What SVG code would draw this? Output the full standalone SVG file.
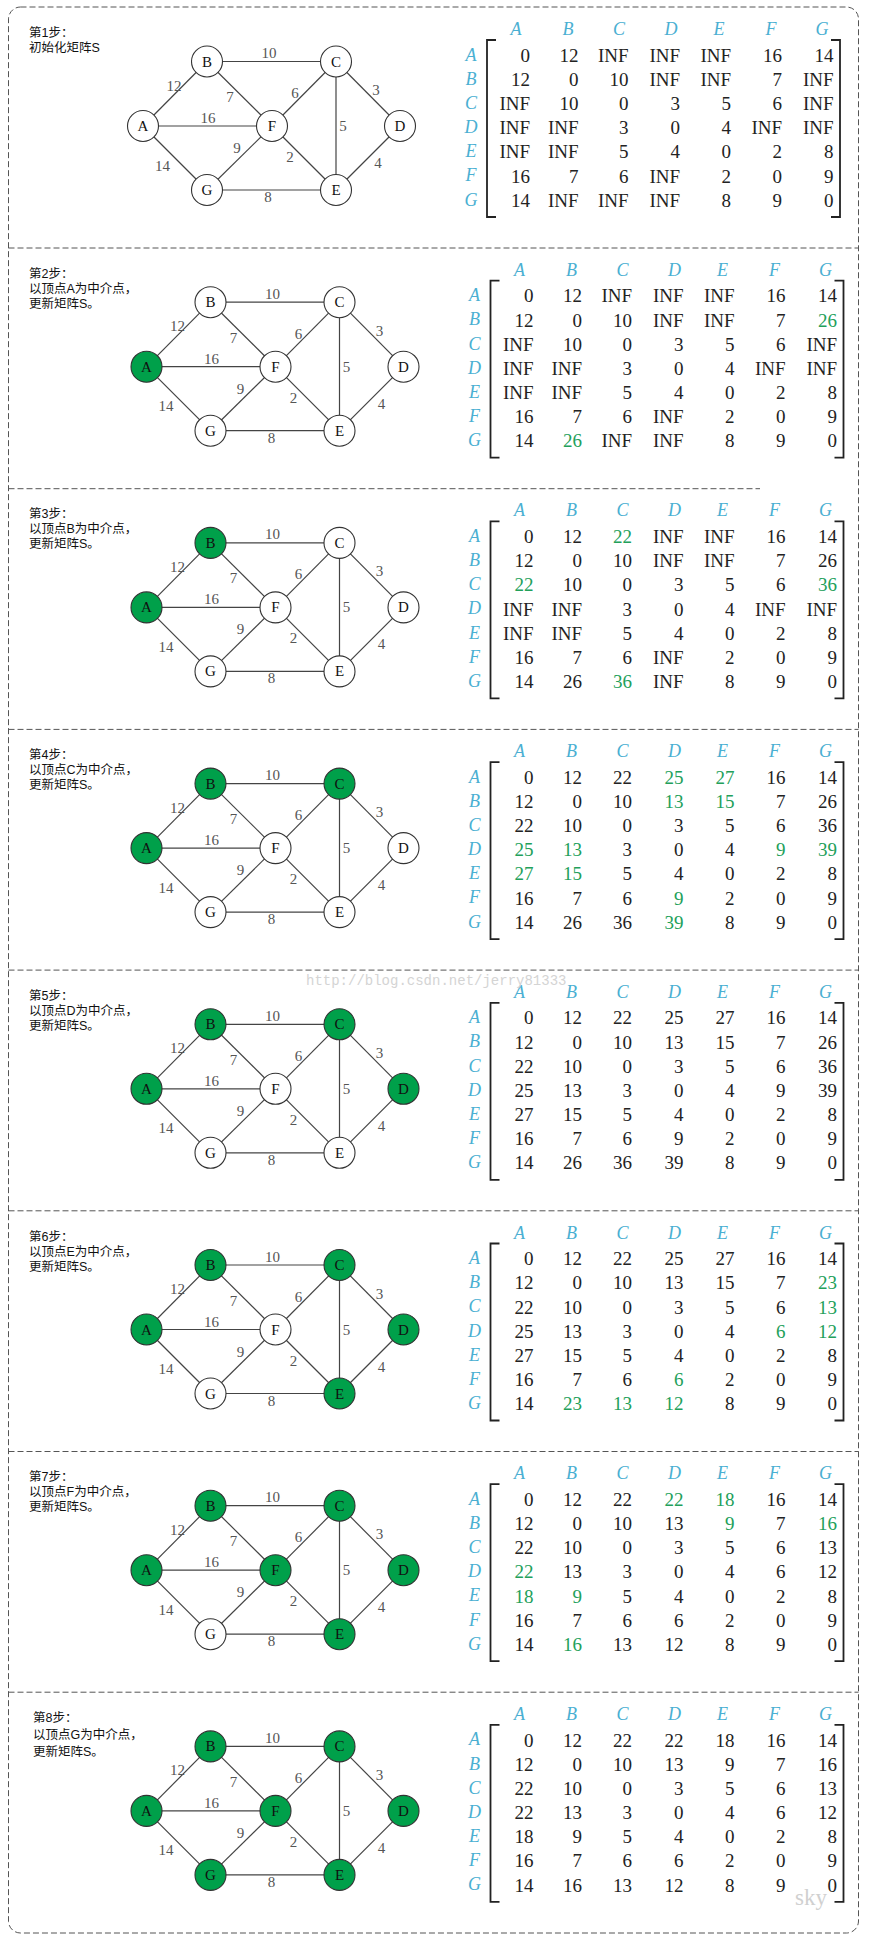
<svg xmlns="http://www.w3.org/2000/svg" width="871" height="1949" viewBox="0 0 871 1949">
<style>
.bd{fill:none;stroke:#555;stroke-width:1;stroke-dasharray:6 3}
.e{stroke:#444;stroke-width:1.2}
.el{font-family:"Liberation Serif",serif;font-size:15px;fill:#555;text-anchor:middle}
.n circle{fill:#fff;stroke:#333;stroke-width:1.1}
.n.on circle{fill:#00a04a}
.n text{font-family:"Liberation Serif",serif;font-size:15px;fill:#111;text-anchor:middle}
.st{font-family:"Liberation Sans","Noto Sans CJK SC",sans-serif;font-size:12.5px;fill:#111}
.h{font-family:"Liberation Serif",serif;font-style:italic;font-size:18px;fill:#4aafd2;text-anchor:middle}
.v{font-family:"Liberation Serif",serif;font-size:19px;fill:#222;text-anchor:end}
.g{fill:#22a05a}
.br{fill:none;stroke:#222;stroke-width:1.8}
.wm{font-family:"Liberation Mono",monospace;font-size:14px;fill:#d4d4d4}
.sky{font-family:"Liberation Serif",serif;font-size:23px;fill:#d0d0d0}
</style>
<defs>
<g id="hdr">
<text class="h" y="35"><tspan x="516">A</tspan><tspan x="568">B</tspan><tspan x="619">C</tspan><tspan x="671">D</tspan><tspan x="719">E</tspan><tspan x="771">F</tspan><tspan x="822">G</tspan></text>
<text class="h" x="471" y="60.5">A</text><text class="h" x="471" y="84.7">B</text><text class="h" x="471" y="108.9">C</text><text class="h" x="471" y="133">D</text><text class="h" x="471" y="157.2">E</text><text class="h" x="471" y="181.4">F</text><text class="h" x="471" y="205.5">G</text>
<path class="br" d="M496,40 H487 V217 H496"/><path class="br" d="M831,40 H840 V217 H831"/>
</g>
</defs>
<rect class="bd" x="8.5" y="7" width="850" height="1926" rx="12"/>
<g id="dividers">
<line class="bd" x1="8.5" y1="248" x2="858.5" y2="248"/>
<line class="bd" x1="8.5" y1="488.7" x2="760" y2="488.7"/>
<line class="bd" x1="8.5" y1="729.4" x2="858.5" y2="729.4"/>
<line class="bd" x1="8.5" y1="970.1" x2="858.5" y2="970.1"/>
<line class="bd" x1="8.5" y1="1210.8" x2="858.5" y2="1210.8"/>
<line class="bd" x1="8.5" y1="1451.5" x2="858.5" y2="1451.5"/>
<line class="bd" x1="8.5" y1="1692.2" x2="858.5" y2="1692.2"/>
</g>

<!-- STEP 1 -->
<g id="step1">
<g id="step1-text"><text class="st" x="29" y="37">第1步：<tspan x="29" dy="15">初始化矩阵S</tspan></text></g>
<g>
<g id="step1-connectors">
<line class="e" x1="143" y1="126" x2="207" y2="61.5"/><line class="e" x1="143" y1="126" x2="272" y2="126"/><line class="e" x1="143" y1="126" x2="207" y2="190"/><line class="e" x1="207" y1="61.5" x2="336" y2="61.5"/><line class="e" x1="207" y1="61.5" x2="272" y2="126"/><line class="e" x1="336" y1="61.5" x2="272" y2="126"/><line class="e" x1="336" y1="61.5" x2="400" y2="126"/><line class="e" x1="336" y1="61.5" x2="336" y2="190"/><line class="e" x1="272" y1="126" x2="336" y2="190"/><line class="e" x1="207" y1="190" x2="272" y2="126"/><line class="e" x1="207" y1="190" x2="336" y2="190"/><line class="e" x1="400" y1="126" x2="336" y2="190"/>
<text class="el" x="269" y="58">10</text><text class="el" x="174" y="90.5">12</text><text class="el" x="230" y="102">7</text><text class="el" x="295" y="98">6</text><text class="el" x="376" y="95">3</text><text class="el" x="208" y="123">16</text><text class="el" x="343" y="131">5</text><text class="el" x="237" y="153">9</text><text class="el" x="290" y="162">2</text><text class="el" x="162.5" y="170.5">14</text><text class="el" x="378" y="168">4</text><text class="el" x="268" y="202">8</text>
</g>
<g id="s1-A" class="n"><circle cx="143" cy="126" r="15.5"/><text x="143" y="131">A</text></g>
<g id="s1-B" class="n"><circle cx="207" cy="61.5" r="15.5"/><text x="207" y="66.5">B</text></g>
<g id="s1-C" class="n"><circle cx="336" cy="61.5" r="15.5"/><text x="336" y="66.5">C</text></g>
<g id="s1-D" class="n"><circle cx="400" cy="126" r="15.5"/><text x="400" y="131">D</text></g>
<g id="s1-E" class="n"><circle cx="336" cy="190" r="15.5"/><text x="336" y="195">E</text></g>
<g id="s1-F" class="n"><circle cx="272" cy="126" r="15.5"/><text x="272" y="131">F</text></g>
<g id="s1-G" class="n"><circle cx="207" cy="190" r="15.5"/><text x="207" y="195">G</text></g>
<g id="s1-matrix">
<use href="#hdr"/>
<text class="v" y="61.7"><tspan x="530">0</tspan><tspan x="578.5">12</tspan><tspan x="628.5">INF</tspan><tspan x="680">INF</tspan><tspan x="731">INF</tspan><tspan x="782">16</tspan><tspan x="833.5">14</tspan></text>
<text class="v" y="85.9"><tspan x="530">12</tspan><tspan x="578.5">0</tspan><tspan x="628.5">10</tspan><tspan x="680">INF</tspan><tspan x="731">INF</tspan><tspan x="782">7</tspan><tspan x="833.5">INF</tspan></text>
<text class="v" y="110.1"><tspan x="530">INF</tspan><tspan x="578.5">10</tspan><tspan x="628.5">0</tspan><tspan x="680">3</tspan><tspan x="731">5</tspan><tspan x="782">6</tspan><tspan x="833.5">INF</tspan></text>
<text class="v" y="134.2"><tspan x="530">INF</tspan><tspan x="578.5">INF</tspan><tspan x="628.5">3</tspan><tspan x="680">0</tspan><tspan x="731">4</tspan><tspan x="782">INF</tspan><tspan x="833.5">INF</tspan></text>
<text class="v" y="158.4"><tspan x="530">INF</tspan><tspan x="578.5">INF</tspan><tspan x="628.5">5</tspan><tspan x="680">4</tspan><tspan x="731">0</tspan><tspan x="782">2</tspan><tspan x="833.5">8</tspan></text>
<text class="v" y="182.6"><tspan x="530">16</tspan><tspan x="578.5">7</tspan><tspan x="628.5">6</tspan><tspan x="680">INF</tspan><tspan x="731">2</tspan><tspan x="782">0</tspan><tspan x="833.5">9</tspan></text>
<text class="v" y="206.7"><tspan x="530">14</tspan><tspan x="578.5">INF</tspan><tspan x="628.5">INF</tspan><tspan x="680">INF</tspan><tspan x="731">8</tspan><tspan x="782">9</tspan><tspan x="833.5">0</tspan></text>
</g>
</g>
</g>

<!-- STEP 2 -->
<g id="step2" transform="translate(0,240.7)">
<g id="step2-text"><text class="st" x="29" y="37">第2步：<tspan x="29" dy="15">以顶点A为中介点，</tspan><tspan x="29" dy="15">更新矩阵S。</tspan></text></g>
<g transform="translate(3.5,0)">
<g id="step2-connectors">
<line class="e" x1="143" y1="126" x2="207" y2="61.5"/><line class="e" x1="143" y1="126" x2="272" y2="126"/><line class="e" x1="143" y1="126" x2="207" y2="190"/><line class="e" x1="207" y1="61.5" x2="336" y2="61.5"/><line class="e" x1="207" y1="61.5" x2="272" y2="126"/><line class="e" x1="336" y1="61.5" x2="272" y2="126"/><line class="e" x1="336" y1="61.5" x2="400" y2="126"/><line class="e" x1="336" y1="61.5" x2="336" y2="190"/><line class="e" x1="272" y1="126" x2="336" y2="190"/><line class="e" x1="207" y1="190" x2="272" y2="126"/><line class="e" x1="207" y1="190" x2="336" y2="190"/><line class="e" x1="400" y1="126" x2="336" y2="190"/>
<text class="el" x="269" y="58">10</text><text class="el" x="174" y="90.5">12</text><text class="el" x="230" y="102">7</text><text class="el" x="295" y="98">6</text><text class="el" x="376" y="95">3</text><text class="el" x="208" y="123">16</text><text class="el" x="343" y="131">5</text><text class="el" x="237" y="153">9</text><text class="el" x="290" y="162">2</text><text class="el" x="162.5" y="170.5">14</text><text class="el" x="378" y="168">4</text><text class="el" x="268" y="202">8</text>
</g>
<g id="s2-A" class="n on"><circle cx="143" cy="126" r="15.5"/><text x="143" y="131">A</text></g>
<g id="s2-B" class="n"><circle cx="207" cy="61.5" r="15.5"/><text x="207" y="66.5">B</text></g>
<g id="s2-C" class="n"><circle cx="336" cy="61.5" r="15.5"/><text x="336" y="66.5">C</text></g>
<g id="s2-D" class="n"><circle cx="400" cy="126" r="15.5"/><text x="400" y="131">D</text></g>
<g id="s2-E" class="n"><circle cx="336" cy="190" r="15.5"/><text x="336" y="195">E</text></g>
<g id="s2-F" class="n"><circle cx="272" cy="126" r="15.5"/><text x="272" y="131">F</text></g>
<g id="s2-G" class="n"><circle cx="207" cy="190" r="15.5"/><text x="207" y="195">G</text></g>
<g id="s2-matrix">
<use href="#hdr"/>
<text class="v" y="61.7"><tspan x="530">0</tspan><tspan x="578.5">12</tspan><tspan x="628.5">INF</tspan><tspan x="680">INF</tspan><tspan x="731">INF</tspan><tspan x="782">16</tspan><tspan x="833.5">14</tspan></text>
<text class="v" y="85.9"><tspan x="530">12</tspan><tspan x="578.5">0</tspan><tspan x="628.5">10</tspan><tspan x="680">INF</tspan><tspan x="731">INF</tspan><tspan x="782">7</tspan><tspan x="833.5" class="g">26</tspan></text>
<text class="v" y="110.1"><tspan x="530">INF</tspan><tspan x="578.5">10</tspan><tspan x="628.5">0</tspan><tspan x="680">3</tspan><tspan x="731">5</tspan><tspan x="782">6</tspan><tspan x="833.5">INF</tspan></text>
<text class="v" y="134.2"><tspan x="530">INF</tspan><tspan x="578.5">INF</tspan><tspan x="628.5">3</tspan><tspan x="680">0</tspan><tspan x="731">4</tspan><tspan x="782">INF</tspan><tspan x="833.5">INF</tspan></text>
<text class="v" y="158.4"><tspan x="530">INF</tspan><tspan x="578.5">INF</tspan><tspan x="628.5">5</tspan><tspan x="680">4</tspan><tspan x="731">0</tspan><tspan x="782">2</tspan><tspan x="833.5">8</tspan></text>
<text class="v" y="182.6"><tspan x="530">16</tspan><tspan x="578.5">7</tspan><tspan x="628.5">6</tspan><tspan x="680">INF</tspan><tspan x="731">2</tspan><tspan x="782">0</tspan><tspan x="833.5">9</tspan></text>
<text class="v" y="206.7"><tspan x="530">14</tspan><tspan x="578.5" class="g">26</tspan><tspan x="628.5">INF</tspan><tspan x="680">INF</tspan><tspan x="731">8</tspan><tspan x="782">9</tspan><tspan x="833.5">0</tspan></text>
</g>
</g>
</g>

<!-- STEP 3 -->
<g id="step3" transform="translate(0,481.4)">
<g id="step3-text"><text class="st" x="29" y="37">第3步：<tspan x="29" dy="15">以顶点B为中介点，</tspan><tspan x="29" dy="15">更新矩阵S。</tspan></text></g>
<g transform="translate(3.5,0)">
<g id="step3-connectors">
<line class="e" x1="143" y1="126" x2="207" y2="61.5"/><line class="e" x1="143" y1="126" x2="272" y2="126"/><line class="e" x1="143" y1="126" x2="207" y2="190"/><line class="e" x1="207" y1="61.5" x2="336" y2="61.5"/><line class="e" x1="207" y1="61.5" x2="272" y2="126"/><line class="e" x1="336" y1="61.5" x2="272" y2="126"/><line class="e" x1="336" y1="61.5" x2="400" y2="126"/><line class="e" x1="336" y1="61.5" x2="336" y2="190"/><line class="e" x1="272" y1="126" x2="336" y2="190"/><line class="e" x1="207" y1="190" x2="272" y2="126"/><line class="e" x1="207" y1="190" x2="336" y2="190"/><line class="e" x1="400" y1="126" x2="336" y2="190"/>
<text class="el" x="269" y="58">10</text><text class="el" x="174" y="90.5">12</text><text class="el" x="230" y="102">7</text><text class="el" x="295" y="98">6</text><text class="el" x="376" y="95">3</text><text class="el" x="208" y="123">16</text><text class="el" x="343" y="131">5</text><text class="el" x="237" y="153">9</text><text class="el" x="290" y="162">2</text><text class="el" x="162.5" y="170.5">14</text><text class="el" x="378" y="168">4</text><text class="el" x="268" y="202">8</text>
</g>
<g id="s3-A" class="n on"><circle cx="143" cy="126" r="15.5"/><text x="143" y="131">A</text></g>
<g id="s3-B" class="n on"><circle cx="207" cy="61.5" r="15.5"/><text x="207" y="66.5">B</text></g>
<g id="s3-C" class="n"><circle cx="336" cy="61.5" r="15.5"/><text x="336" y="66.5">C</text></g>
<g id="s3-D" class="n"><circle cx="400" cy="126" r="15.5"/><text x="400" y="131">D</text></g>
<g id="s3-E" class="n"><circle cx="336" cy="190" r="15.5"/><text x="336" y="195">E</text></g>
<g id="s3-F" class="n"><circle cx="272" cy="126" r="15.5"/><text x="272" y="131">F</text></g>
<g id="s3-G" class="n"><circle cx="207" cy="190" r="15.5"/><text x="207" y="195">G</text></g>
<g id="s3-matrix">
<use href="#hdr"/>
<text class="v" y="61.7"><tspan x="530">0</tspan><tspan x="578.5">12</tspan><tspan x="628.5" class="g">22</tspan><tspan x="680">INF</tspan><tspan x="731">INF</tspan><tspan x="782">16</tspan><tspan x="833.5">14</tspan></text>
<text class="v" y="85.9"><tspan x="530">12</tspan><tspan x="578.5">0</tspan><tspan x="628.5">10</tspan><tspan x="680">INF</tspan><tspan x="731">INF</tspan><tspan x="782">7</tspan><tspan x="833.5">26</tspan></text>
<text class="v" y="110.1"><tspan x="530" class="g">22</tspan><tspan x="578.5">10</tspan><tspan x="628.5">0</tspan><tspan x="680">3</tspan><tspan x="731">5</tspan><tspan x="782">6</tspan><tspan x="833.5" class="g">36</tspan></text>
<text class="v" y="134.2"><tspan x="530">INF</tspan><tspan x="578.5">INF</tspan><tspan x="628.5">3</tspan><tspan x="680">0</tspan><tspan x="731">4</tspan><tspan x="782">INF</tspan><tspan x="833.5">INF</tspan></text>
<text class="v" y="158.4"><tspan x="530">INF</tspan><tspan x="578.5">INF</tspan><tspan x="628.5">5</tspan><tspan x="680">4</tspan><tspan x="731">0</tspan><tspan x="782">2</tspan><tspan x="833.5">8</tspan></text>
<text class="v" y="182.6"><tspan x="530">16</tspan><tspan x="578.5">7</tspan><tspan x="628.5">6</tspan><tspan x="680">INF</tspan><tspan x="731">2</tspan><tspan x="782">0</tspan><tspan x="833.5">9</tspan></text>
<text class="v" y="206.7"><tspan x="530">14</tspan><tspan x="578.5">26</tspan><tspan x="628.5" class="g">36</tspan><tspan x="680">INF</tspan><tspan x="731">8</tspan><tspan x="782">9</tspan><tspan x="833.5">0</tspan></text>
</g>
</g>
</g>

<!-- STEP 4 -->
<g id="step4" transform="translate(0,722.1)">
<g id="step4-text"><text class="st" x="29" y="37">第4步：<tspan x="29" dy="15">以顶点C为中介点，</tspan><tspan x="29" dy="15">更新矩阵S。</tspan></text></g>
<g transform="translate(3.5,0)">
<g id="step4-connectors">
<line class="e" x1="143" y1="126" x2="207" y2="61.5"/><line class="e" x1="143" y1="126" x2="272" y2="126"/><line class="e" x1="143" y1="126" x2="207" y2="190"/><line class="e" x1="207" y1="61.5" x2="336" y2="61.5"/><line class="e" x1="207" y1="61.5" x2="272" y2="126"/><line class="e" x1="336" y1="61.5" x2="272" y2="126"/><line class="e" x1="336" y1="61.5" x2="400" y2="126"/><line class="e" x1="336" y1="61.5" x2="336" y2="190"/><line class="e" x1="272" y1="126" x2="336" y2="190"/><line class="e" x1="207" y1="190" x2="272" y2="126"/><line class="e" x1="207" y1="190" x2="336" y2="190"/><line class="e" x1="400" y1="126" x2="336" y2="190"/>
<text class="el" x="269" y="58">10</text><text class="el" x="174" y="90.5">12</text><text class="el" x="230" y="102">7</text><text class="el" x="295" y="98">6</text><text class="el" x="376" y="95">3</text><text class="el" x="208" y="123">16</text><text class="el" x="343" y="131">5</text><text class="el" x="237" y="153">9</text><text class="el" x="290" y="162">2</text><text class="el" x="162.5" y="170.5">14</text><text class="el" x="378" y="168">4</text><text class="el" x="268" y="202">8</text>
</g>
<g id="s4-A" class="n on"><circle cx="143" cy="126" r="15.5"/><text x="143" y="131">A</text></g>
<g id="s4-B" class="n on"><circle cx="207" cy="61.5" r="15.5"/><text x="207" y="66.5">B</text></g>
<g id="s4-C" class="n on"><circle cx="336" cy="61.5" r="15.5"/><text x="336" y="66.5">C</text></g>
<g id="s4-D" class="n"><circle cx="400" cy="126" r="15.5"/><text x="400" y="131">D</text></g>
<g id="s4-E" class="n"><circle cx="336" cy="190" r="15.5"/><text x="336" y="195">E</text></g>
<g id="s4-F" class="n"><circle cx="272" cy="126" r="15.5"/><text x="272" y="131">F</text></g>
<g id="s4-G" class="n"><circle cx="207" cy="190" r="15.5"/><text x="207" y="195">G</text></g>
<g id="s4-matrix">
<use href="#hdr"/>
<text class="v" y="61.7"><tspan x="530">0</tspan><tspan x="578.5">12</tspan><tspan x="628.5">22</tspan><tspan x="680" class="g">25</tspan><tspan x="731" class="g">27</tspan><tspan x="782">16</tspan><tspan x="833.5">14</tspan></text>
<text class="v" y="85.9"><tspan x="530">12</tspan><tspan x="578.5">0</tspan><tspan x="628.5">10</tspan><tspan x="680" class="g">13</tspan><tspan x="731" class="g">15</tspan><tspan x="782">7</tspan><tspan x="833.5">26</tspan></text>
<text class="v" y="110.1"><tspan x="530">22</tspan><tspan x="578.5">10</tspan><tspan x="628.5">0</tspan><tspan x="680">3</tspan><tspan x="731">5</tspan><tspan x="782">6</tspan><tspan x="833.5">36</tspan></text>
<text class="v" y="134.2"><tspan x="530" class="g">25</tspan><tspan x="578.5" class="g">13</tspan><tspan x="628.5">3</tspan><tspan x="680">0</tspan><tspan x="731">4</tspan><tspan x="782" class="g">9</tspan><tspan x="833.5" class="g">39</tspan></text>
<text class="v" y="158.4"><tspan x="530" class="g">27</tspan><tspan x="578.5" class="g">15</tspan><tspan x="628.5">5</tspan><tspan x="680">4</tspan><tspan x="731">0</tspan><tspan x="782">2</tspan><tspan x="833.5">8</tspan></text>
<text class="v" y="182.6"><tspan x="530">16</tspan><tspan x="578.5">7</tspan><tspan x="628.5">6</tspan><tspan x="680" class="g">9</tspan><tspan x="731">2</tspan><tspan x="782">0</tspan><tspan x="833.5">9</tspan></text>
<text class="v" y="206.7"><tspan x="530">14</tspan><tspan x="578.5">26</tspan><tspan x="628.5">36</tspan><tspan x="680" class="g">39</tspan><tspan x="731">8</tspan><tspan x="782">9</tspan><tspan x="833.5">0</tspan></text>
</g>
</g>
</g>

<!-- STEP 5 -->
<g id="step5" transform="translate(0,962.8)">
<g id="step5-text"><text class="st" x="29" y="37">第5步：<tspan x="29" dy="15">以顶点D为中介点，</tspan><tspan x="29" dy="15">更新矩阵S。</tspan></text></g>
<g transform="translate(3.5,0)">
<g id="step5-connectors">
<line class="e" x1="143" y1="126" x2="207" y2="61.5"/><line class="e" x1="143" y1="126" x2="272" y2="126"/><line class="e" x1="143" y1="126" x2="207" y2="190"/><line class="e" x1="207" y1="61.5" x2="336" y2="61.5"/><line class="e" x1="207" y1="61.5" x2="272" y2="126"/><line class="e" x1="336" y1="61.5" x2="272" y2="126"/><line class="e" x1="336" y1="61.5" x2="400" y2="126"/><line class="e" x1="336" y1="61.5" x2="336" y2="190"/><line class="e" x1="272" y1="126" x2="336" y2="190"/><line class="e" x1="207" y1="190" x2="272" y2="126"/><line class="e" x1="207" y1="190" x2="336" y2="190"/><line class="e" x1="400" y1="126" x2="336" y2="190"/>
<text class="el" x="269" y="58">10</text><text class="el" x="174" y="90.5">12</text><text class="el" x="230" y="102">7</text><text class="el" x="295" y="98">6</text><text class="el" x="376" y="95">3</text><text class="el" x="208" y="123">16</text><text class="el" x="343" y="131">5</text><text class="el" x="237" y="153">9</text><text class="el" x="290" y="162">2</text><text class="el" x="162.5" y="170.5">14</text><text class="el" x="378" y="168">4</text><text class="el" x="268" y="202">8</text>
</g>
<g id="s5-A" class="n on"><circle cx="143" cy="126" r="15.5"/><text x="143" y="131">A</text></g>
<g id="s5-B" class="n on"><circle cx="207" cy="61.5" r="15.5"/><text x="207" y="66.5">B</text></g>
<g id="s5-C" class="n on"><circle cx="336" cy="61.5" r="15.5"/><text x="336" y="66.5">C</text></g>
<g id="s5-D" class="n on"><circle cx="400" cy="126" r="15.5"/><text x="400" y="131">D</text></g>
<g id="s5-E" class="n"><circle cx="336" cy="190" r="15.5"/><text x="336" y="195">E</text></g>
<g id="s5-F" class="n"><circle cx="272" cy="126" r="15.5"/><text x="272" y="131">F</text></g>
<g id="s5-G" class="n"><circle cx="207" cy="190" r="15.5"/><text x="207" y="195">G</text></g>
<g id="s5-matrix">
<use href="#hdr"/>
<text class="v" y="61.7"><tspan x="530">0</tspan><tspan x="578.5">12</tspan><tspan x="628.5">22</tspan><tspan x="680">25</tspan><tspan x="731">27</tspan><tspan x="782">16</tspan><tspan x="833.5">14</tspan></text>
<text class="v" y="85.9"><tspan x="530">12</tspan><tspan x="578.5">0</tspan><tspan x="628.5">10</tspan><tspan x="680">13</tspan><tspan x="731">15</tspan><tspan x="782">7</tspan><tspan x="833.5">26</tspan></text>
<text class="v" y="110.1"><tspan x="530">22</tspan><tspan x="578.5">10</tspan><tspan x="628.5">0</tspan><tspan x="680">3</tspan><tspan x="731">5</tspan><tspan x="782">6</tspan><tspan x="833.5">36</tspan></text>
<text class="v" y="134.2"><tspan x="530">25</tspan><tspan x="578.5">13</tspan><tspan x="628.5">3</tspan><tspan x="680">0</tspan><tspan x="731">4</tspan><tspan x="782">9</tspan><tspan x="833.5">39</tspan></text>
<text class="v" y="158.4"><tspan x="530">27</tspan><tspan x="578.5">15</tspan><tspan x="628.5">5</tspan><tspan x="680">4</tspan><tspan x="731">0</tspan><tspan x="782">2</tspan><tspan x="833.5">8</tspan></text>
<text class="v" y="182.6"><tspan x="530">16</tspan><tspan x="578.5">7</tspan><tspan x="628.5">6</tspan><tspan x="680">9</tspan><tspan x="731">2</tspan><tspan x="782">0</tspan><tspan x="833.5">9</tspan></text>
<text class="v" y="206.7"><tspan x="530">14</tspan><tspan x="578.5">26</tspan><tspan x="628.5">36</tspan><tspan x="680">39</tspan><tspan x="731">8</tspan><tspan x="782">9</tspan><tspan x="833.5">0</tspan></text>
</g>
</g>
</g>

<!-- STEP 6 -->
<g id="step6" transform="translate(0,1203.5)">
<g id="step6-text"><text class="st" x="29" y="37">第6步：<tspan x="29" dy="15">以顶点E为中介点，</tspan><tspan x="29" dy="15">更新矩阵S。</tspan></text></g>
<g transform="translate(3.5,0)">
<g id="step6-connectors">
<line class="e" x1="143" y1="126" x2="207" y2="61.5"/><line class="e" x1="143" y1="126" x2="272" y2="126"/><line class="e" x1="143" y1="126" x2="207" y2="190"/><line class="e" x1="207" y1="61.5" x2="336" y2="61.5"/><line class="e" x1="207" y1="61.5" x2="272" y2="126"/><line class="e" x1="336" y1="61.5" x2="272" y2="126"/><line class="e" x1="336" y1="61.5" x2="400" y2="126"/><line class="e" x1="336" y1="61.5" x2="336" y2="190"/><line class="e" x1="272" y1="126" x2="336" y2="190"/><line class="e" x1="207" y1="190" x2="272" y2="126"/><line class="e" x1="207" y1="190" x2="336" y2="190"/><line class="e" x1="400" y1="126" x2="336" y2="190"/>
<text class="el" x="269" y="58">10</text><text class="el" x="174" y="90.5">12</text><text class="el" x="230" y="102">7</text><text class="el" x="295" y="98">6</text><text class="el" x="376" y="95">3</text><text class="el" x="208" y="123">16</text><text class="el" x="343" y="131">5</text><text class="el" x="237" y="153">9</text><text class="el" x="290" y="162">2</text><text class="el" x="162.5" y="170.5">14</text><text class="el" x="378" y="168">4</text><text class="el" x="268" y="202">8</text>
</g>
<g id="s6-A" class="n on"><circle cx="143" cy="126" r="15.5"/><text x="143" y="131">A</text></g>
<g id="s6-B" class="n on"><circle cx="207" cy="61.5" r="15.5"/><text x="207" y="66.5">B</text></g>
<g id="s6-C" class="n on"><circle cx="336" cy="61.5" r="15.5"/><text x="336" y="66.5">C</text></g>
<g id="s6-D" class="n on"><circle cx="400" cy="126" r="15.5"/><text x="400" y="131">D</text></g>
<g id="s6-E" class="n on"><circle cx="336" cy="190" r="15.5"/><text x="336" y="195">E</text></g>
<g id="s6-F" class="n"><circle cx="272" cy="126" r="15.5"/><text x="272" y="131">F</text></g>
<g id="s6-G" class="n"><circle cx="207" cy="190" r="15.5"/><text x="207" y="195">G</text></g>
<g id="s6-matrix">
<use href="#hdr"/>
<text class="v" y="61.7"><tspan x="530">0</tspan><tspan x="578.5">12</tspan><tspan x="628.5">22</tspan><tspan x="680">25</tspan><tspan x="731">27</tspan><tspan x="782">16</tspan><tspan x="833.5">14</tspan></text>
<text class="v" y="85.9"><tspan x="530">12</tspan><tspan x="578.5">0</tspan><tspan x="628.5">10</tspan><tspan x="680">13</tspan><tspan x="731">15</tspan><tspan x="782">7</tspan><tspan x="833.5" class="g">23</tspan></text>
<text class="v" y="110.1"><tspan x="530">22</tspan><tspan x="578.5">10</tspan><tspan x="628.5">0</tspan><tspan x="680">3</tspan><tspan x="731">5</tspan><tspan x="782">6</tspan><tspan x="833.5" class="g">13</tspan></text>
<text class="v" y="134.2"><tspan x="530">25</tspan><tspan x="578.5">13</tspan><tspan x="628.5">3</tspan><tspan x="680">0</tspan><tspan x="731">4</tspan><tspan x="782" class="g">6</tspan><tspan x="833.5" class="g">12</tspan></text>
<text class="v" y="158.4"><tspan x="530">27</tspan><tspan x="578.5">15</tspan><tspan x="628.5">5</tspan><tspan x="680">4</tspan><tspan x="731">0</tspan><tspan x="782">2</tspan><tspan x="833.5">8</tspan></text>
<text class="v" y="182.6"><tspan x="530">16</tspan><tspan x="578.5">7</tspan><tspan x="628.5">6</tspan><tspan x="680" class="g">6</tspan><tspan x="731">2</tspan><tspan x="782">0</tspan><tspan x="833.5">9</tspan></text>
<text class="v" y="206.7"><tspan x="530">14</tspan><tspan x="578.5" class="g">23</tspan><tspan x="628.5" class="g">13</tspan><tspan x="680" class="g">12</tspan><tspan x="731">8</tspan><tspan x="782">9</tspan><tspan x="833.5">0</tspan></text>
</g>
</g>
</g>

<!-- STEP 7 -->
<g id="step7" transform="translate(0,1444.2)">
<g id="step7-text"><text class="st" x="29" y="37">第7步：<tspan x="29" dy="15">以顶点F为中介点，</tspan><tspan x="29" dy="15">更新矩阵S。</tspan></text></g>
<g transform="translate(3.5,0)">
<g id="step7-connectors">
<line class="e" x1="143" y1="126" x2="207" y2="61.5"/><line class="e" x1="143" y1="126" x2="272" y2="126"/><line class="e" x1="143" y1="126" x2="207" y2="190"/><line class="e" x1="207" y1="61.5" x2="336" y2="61.5"/><line class="e" x1="207" y1="61.5" x2="272" y2="126"/><line class="e" x1="336" y1="61.5" x2="272" y2="126"/><line class="e" x1="336" y1="61.5" x2="400" y2="126"/><line class="e" x1="336" y1="61.5" x2="336" y2="190"/><line class="e" x1="272" y1="126" x2="336" y2="190"/><line class="e" x1="207" y1="190" x2="272" y2="126"/><line class="e" x1="207" y1="190" x2="336" y2="190"/><line class="e" x1="400" y1="126" x2="336" y2="190"/>
<text class="el" x="269" y="58">10</text><text class="el" x="174" y="90.5">12</text><text class="el" x="230" y="102">7</text><text class="el" x="295" y="98">6</text><text class="el" x="376" y="95">3</text><text class="el" x="208" y="123">16</text><text class="el" x="343" y="131">5</text><text class="el" x="237" y="153">9</text><text class="el" x="290" y="162">2</text><text class="el" x="162.5" y="170.5">14</text><text class="el" x="378" y="168">4</text><text class="el" x="268" y="202">8</text>
</g>
<g id="s7-A" class="n on"><circle cx="143" cy="126" r="15.5"/><text x="143" y="131">A</text></g>
<g id="s7-B" class="n on"><circle cx="207" cy="61.5" r="15.5"/><text x="207" y="66.5">B</text></g>
<g id="s7-C" class="n on"><circle cx="336" cy="61.5" r="15.5"/><text x="336" y="66.5">C</text></g>
<g id="s7-D" class="n on"><circle cx="400" cy="126" r="15.5"/><text x="400" y="131">D</text></g>
<g id="s7-E" class="n on"><circle cx="336" cy="190" r="15.5"/><text x="336" y="195">E</text></g>
<g id="s7-F" class="n on"><circle cx="272" cy="126" r="15.5"/><text x="272" y="131">F</text></g>
<g id="s7-G" class="n"><circle cx="207" cy="190" r="15.5"/><text x="207" y="195">G</text></g>
<g id="s7-matrix">
<use href="#hdr"/>
<text class="v" y="61.7"><tspan x="530">0</tspan><tspan x="578.5">12</tspan><tspan x="628.5">22</tspan><tspan x="680" class="g">22</tspan><tspan x="731" class="g">18</tspan><tspan x="782">16</tspan><tspan x="833.5">14</tspan></text>
<text class="v" y="85.9"><tspan x="530">12</tspan><tspan x="578.5">0</tspan><tspan x="628.5">10</tspan><tspan x="680">13</tspan><tspan x="731" class="g">9</tspan><tspan x="782">7</tspan><tspan x="833.5" class="g">16</tspan></text>
<text class="v" y="110.1"><tspan x="530">22</tspan><tspan x="578.5">10</tspan><tspan x="628.5">0</tspan><tspan x="680">3</tspan><tspan x="731">5</tspan><tspan x="782">6</tspan><tspan x="833.5">13</tspan></text>
<text class="v" y="134.2"><tspan x="530" class="g">22</tspan><tspan x="578.5">13</tspan><tspan x="628.5">3</tspan><tspan x="680">0</tspan><tspan x="731">4</tspan><tspan x="782">6</tspan><tspan x="833.5">12</tspan></text>
<text class="v" y="158.4"><tspan x="530" class="g">18</tspan><tspan x="578.5" class="g">9</tspan><tspan x="628.5">5</tspan><tspan x="680">4</tspan><tspan x="731">0</tspan><tspan x="782">2</tspan><tspan x="833.5">8</tspan></text>
<text class="v" y="182.6"><tspan x="530">16</tspan><tspan x="578.5">7</tspan><tspan x="628.5">6</tspan><tspan x="680">6</tspan><tspan x="731">2</tspan><tspan x="782">0</tspan><tspan x="833.5">9</tspan></text>
<text class="v" y="206.7"><tspan x="530">14</tspan><tspan x="578.5" class="g">16</tspan><tspan x="628.5">13</tspan><tspan x="680">12</tspan><tspan x="731">8</tspan><tspan x="782">9</tspan><tspan x="833.5">0</tspan></text>
</g>
</g>
</g>

<!-- STEP 8 -->
<g id="step8" transform="translate(0,1684.9)">
<g id="step8-text"><text class="st" x="33" y="37">第8步：<tspan x="33" dy="17">以顶点G为中介点，</tspan><tspan x="33" dy="17">更新矩阵S。</tspan></text></g>
<g transform="translate(3.5,0)">
<g id="step8-connectors">
<line class="e" x1="143" y1="126" x2="207" y2="61.5"/><line class="e" x1="143" y1="126" x2="272" y2="126"/><line class="e" x1="143" y1="126" x2="207" y2="190"/><line class="e" x1="207" y1="61.5" x2="336" y2="61.5"/><line class="e" x1="207" y1="61.5" x2="272" y2="126"/><line class="e" x1="336" y1="61.5" x2="272" y2="126"/><line class="e" x1="336" y1="61.5" x2="400" y2="126"/><line class="e" x1="336" y1="61.5" x2="336" y2="190"/><line class="e" x1="272" y1="126" x2="336" y2="190"/><line class="e" x1="207" y1="190" x2="272" y2="126"/><line class="e" x1="207" y1="190" x2="336" y2="190"/><line class="e" x1="400" y1="126" x2="336" y2="190"/>
<text class="el" x="269" y="58">10</text><text class="el" x="174" y="90.5">12</text><text class="el" x="230" y="102">7</text><text class="el" x="295" y="98">6</text><text class="el" x="376" y="95">3</text><text class="el" x="208" y="123">16</text><text class="el" x="343" y="131">5</text><text class="el" x="237" y="153">9</text><text class="el" x="290" y="162">2</text><text class="el" x="162.5" y="170.5">14</text><text class="el" x="378" y="168">4</text><text class="el" x="268" y="202">8</text>
</g>
<g id="s8-A" class="n on"><circle cx="143" cy="126" r="15.5"/><text x="143" y="131">A</text></g>
<g id="s8-B" class="n on"><circle cx="207" cy="61.5" r="15.5"/><text x="207" y="66.5">B</text></g>
<g id="s8-C" class="n on"><circle cx="336" cy="61.5" r="15.5"/><text x="336" y="66.5">C</text></g>
<g id="s8-D" class="n on"><circle cx="400" cy="126" r="15.5"/><text x="400" y="131">D</text></g>
<g id="s8-E" class="n on"><circle cx="336" cy="190" r="15.5"/><text x="336" y="195">E</text></g>
<g id="s8-F" class="n on"><circle cx="272" cy="126" r="15.5"/><text x="272" y="131">F</text></g>
<g id="s8-G" class="n on"><circle cx="207" cy="190" r="15.5"/><text x="207" y="195">G</text></g>
<g id="s8-matrix">
<use href="#hdr"/>
<text class="v" y="61.7"><tspan x="530">0</tspan><tspan x="578.5">12</tspan><tspan x="628.5">22</tspan><tspan x="680">22</tspan><tspan x="731">18</tspan><tspan x="782">16</tspan><tspan x="833.5">14</tspan></text>
<text class="v" y="85.9"><tspan x="530">12</tspan><tspan x="578.5">0</tspan><tspan x="628.5">10</tspan><tspan x="680">13</tspan><tspan x="731">9</tspan><tspan x="782">7</tspan><tspan x="833.5">16</tspan></text>
<text class="v" y="110.1"><tspan x="530">22</tspan><tspan x="578.5">10</tspan><tspan x="628.5">0</tspan><tspan x="680">3</tspan><tspan x="731">5</tspan><tspan x="782">6</tspan><tspan x="833.5">13</tspan></text>
<text class="v" y="134.2"><tspan x="530">22</tspan><tspan x="578.5">13</tspan><tspan x="628.5">3</tspan><tspan x="680">0</tspan><tspan x="731">4</tspan><tspan x="782">6</tspan><tspan x="833.5">12</tspan></text>
<text class="v" y="158.4"><tspan x="530">18</tspan><tspan x="578.5">9</tspan><tspan x="628.5">5</tspan><tspan x="680">4</tspan><tspan x="731">0</tspan><tspan x="782">2</tspan><tspan x="833.5">8</tspan></text>
<text class="v" y="182.6"><tspan x="530">16</tspan><tspan x="578.5">7</tspan><tspan x="628.5">6</tspan><tspan x="680">6</tspan><tspan x="731">2</tspan><tspan x="782">0</tspan><tspan x="833.5">9</tspan></text>
<text class="v" y="206.7"><tspan x="530">14</tspan><tspan x="578.5">16</tspan><tspan x="628.5">13</tspan><tspan x="680">12</tspan><tspan x="731">8</tspan><tspan x="782">9</tspan><tspan x="833.5">0</tspan></text>
</g>
</g>
</g>

<g id="watermarks">
<text class="wm" x="306" y="985">http://blog.csdn.net/jerry81333</text>
<text class="sky" x="795" y="1905">sky</text>
</g>
</svg>
